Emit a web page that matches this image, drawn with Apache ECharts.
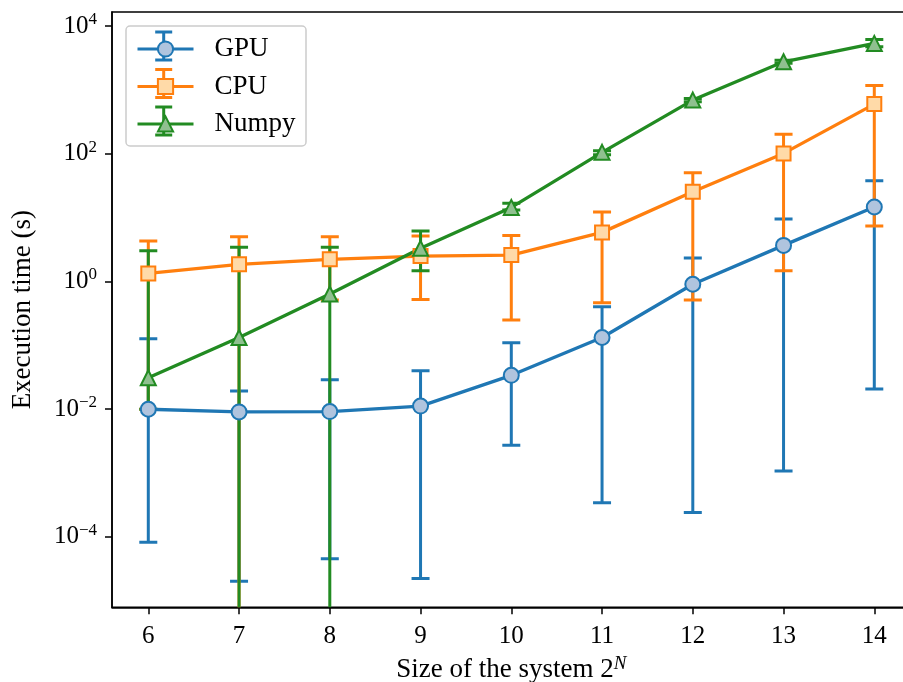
<!DOCTYPE html>
<html><head><meta charset="utf-8">
<script src="https://cdn.jsdelivr.net/npm/echarts@6/dist/echarts.min.js"></script>
<style>html,body{margin:0;padding:0;background:#fff;overflow:hidden}#c{width:903px;height:682px}</style>
</head><body><div id="c"></div>
<script>
// ---- data (seconds) ----
const sizes = [6, 7, 8, 9, 10, 11, 12, 13, 14];
const seriesNames = ['GPU', 'CPU', 'Numpy'];

const gpuTime = [0.0099, 0.0090, 0.0091, 0.0111, 0.0337, 0.132, 0.90, 3.66, 14.6];
const gpuLow  = [8.2e-5, 2.0e-5, 4.5e-5, 2.2e-5, 0.0027, 3.4e-4, 2.4e-4, 1.07e-3, 0.0206];
const gpuHigh = [0.126, 0.0191, 0.0288, 0.0398, 0.109, 0.40, 2.32, 9.46, 37.7];

const cpuTime = [1.33, 1.85, 2.21, 2.49, 2.58, 5.85, 25.3, 101, 598];
const cpuLow  = [0.0099, 0, 0.51, 0.52, 0.248, 0.46, 0.51, 1.47, 7.35];
const cpuHigh = [4.28, 5.0, 5.0, 5.13, 5.25, 12.2, 50.2, 201, 1175];

const numpyTime = [0.0308, 0.132, 0.633, 3.29, 14.4, 105, 692, 2755, 5350];
const numpyLow  = [0.0099, 0, 0, 1.47, 13.1, 96, 650, 2620, 4750];
const numpyHigh = [3.02, 3.41, 3.41, 6.14, 16.7, 111, 735, 2900, 6150];

const yTickExps = [-4, -2, 0, 2, 4];

// ---- style ----
const FONT = '"Liberation Serif", "DejaVu Serif", serif';
const Y_MIN = -5.107, Y_MAX = 4.22;
const colors = { GPU: '#1f77b4', CPU: '#ff7f0e', Numpy: '#228b22' };
const fills  = { GPU: '#b0c4de', CPU: '#ffdaa8', Numpy: '#8fc08f' };
const symbols = { GPU: 'circle', CPU: 'rect', Numpy: 'triangle' };
const symSizes = { GPU: 15, CPU: 14, Numpy: 15 };

const toLog = v => v > 0 ? Math.log10(v) : Y_MIN - 3;

function errSeries(name, lo, hi) {
  const color = colors[name];
  return {
    type: 'custom', name: name + ' err', z: 1, clip: true, silent: true,
    data: sizes.map((x, i) => [x, toLog(lo[i]), toLog(hi[i])]),
    encode: { x: 0, y: [1, 2] },
    renderItem(params, api) {
      const x = api.value(0);
      const p1 = api.coord([x, api.value(1)]);
      const p2 = api.coord([x, api.value(2)]);
      const hw = 9;
      const style = { stroke: color, lineWidth: 3, fill: null };
      return { type: 'group', children: [
        { type: 'line', shape: { x1: p1[0], y1: p1[1], x2: p2[0], y2: p2[1] }, style },
        { type: 'line', shape: { x1: p1[0] - hw, y1: p1[1], x2: p1[0] + hw, y2: p1[1] }, style },
        { type: 'line', shape: { x1: p2[0] - hw, y1: p2[1], x2: p2[0] + hw, y2: p2[1] }, style }
      ]};
    }
  };
}
function lineSeries(name, vals, z) {
  return {
    type: 'line', name, z, clip: true,
    data: sizes.map((x, i) => [x, toLog(vals[i])]),
    symbol: symbols[name], symbolSize: symSizes[name], showAllSymbol: true,
    lineStyle: { color: colors[name], width: 3.3 },
    itemStyle: { color: fills[name], borderColor: colors[name], borderWidth: 2 },
    emphasis: { disabled: true }
  };
}

// legend error-bar glyphs (decoration of legend icons)
const legendX = 163.7, legendYs = [46, 83.5, 121];
const glyphs = [];
seriesNames.forEach((n, i) => {
  const y = legendYs[i], st = { stroke: colors[n], lineWidth: 3 };
  glyphs.push({ type: 'line', z: 6, shape: { x1: legendX, y1: y - 14, x2: legendX, y2: y + 14 }, style: st });
  glyphs.push({ type: 'line', z: 6, shape: { x1: legendX - 8.5, y1: y - 14, x2: legendX + 8.5, y2: y - 14 }, style: st });
  glyphs.push({ type: 'line', z: 6, shape: { x1: legendX - 8.5, y1: y + 14, x2: legendX + 8.5, y2: y + 14 }, style: st });
});

const chart = echarts.init(document.getElementById('c'), null, { renderer: 'canvas' });
chart.setOption({
  animation: false,
  backgroundColor: '#fff',
  textStyle: { fontFamily: FONT },
  grid: { left: 112, top: 12, width: 798.6, height: 595.3, outerBoundsMode: 'none', containLabel: false,
          show: true, borderColor: '#000', borderWidth: 1.5, backgroundColor: 'transparent' },
  graphic: [
    { type: 'rect', z: 5, shape: { x: 126, y: 26, width: 180, height: 120, r: 4 },
      style: { fill: 'rgba(255,255,255,0.8)', stroke: '#cccccc', lineWidth: 1.5 } },
    ...glyphs
  ],
  legend: {
    data: seriesNames, left: 126, top: 26, orient: 'vertical', z: 7,
    padding: [9, 10, 10, 10], itemGap: 9.5, itemWidth: 56, itemHeight: 19,
    backgroundColor: 'transparent', borderWidth: 0,
    lineStyle: { width: 3 },
    textStyle: { fontFamily: FONT, fontSize: 27, color: '#000', lineHeight: 28, padding: [0, 0, 0, 16] }
  },
  xAxis: {
    type: 'value', min: 5.6, max: 14.4,
    name: '{a|Size of the system 2}{s|N}', nameLocation: 'middle', nameGap: 47,
    nameTextStyle: { rich: {
      a: { fontFamily: FONT, fontSize: 27, color: '#000', lineHeight: 32 },
      s: { fontFamily: FONT, fontSize: 19, fontStyle: 'italic', color: '#000', verticalAlign: 'top', lineHeight: 19 } } },
    splitLine: { show: false },
    axisLine: { show: true, onZero: false, lineStyle: { color: '#000', width: 1.5 } },
    axisTick: { show: true, customValues: sizes, length: 7, lineStyle: { color: '#000', width: 1.5 } },
    axisLabel: { customValues: sizes, margin: 17, fontFamily: FONT, fontSize: 25, color: '#000' }
  },
  yAxis: {
    type: 'value', min: Y_MIN, max: Y_MAX,
    name: 'Execution time (s)', nameLocation: 'middle', nameGap: 76,
    nameTextStyle: { fontFamily: FONT, fontSize: 27, color: '#000' },
    splitLine: { show: false },
    axisLine: { show: true, onZero: false, lineStyle: { color: '#000', width: 1.5 } },
    axisTick: { show: true, customValues: yTickExps, length: 7, lineStyle: { color: '#000', width: 1.5 } },
    axisLabel: {
      customValues: yTickExps, margin: 15,
      formatter: v => { const e = Math.round(v); return '{b|10}{s|' + (e < 0 ? '\u2212' + (-e) : '' + e) + '}'; },
      rich: {
        b: { fontFamily: FONT, fontSize: 25, color: '#000', lineHeight: 30 },
        s: { fontFamily: FONT, fontSize: 17, color: '#000', verticalAlign: 'top', lineHeight: 17 }
      }
    }
  },
  series: [
    errSeries('GPU', gpuLow, gpuHigh),
    errSeries('CPU', cpuLow, cpuHigh),
    errSeries('Numpy', numpyLow, numpyHigh),
    lineSeries('GPU', gpuTime, 3),
    lineSeries('CPU', cpuTime, 3),
    lineSeries('Numpy', numpyTime, 3)
  ]
});
</script>
</body></html>
